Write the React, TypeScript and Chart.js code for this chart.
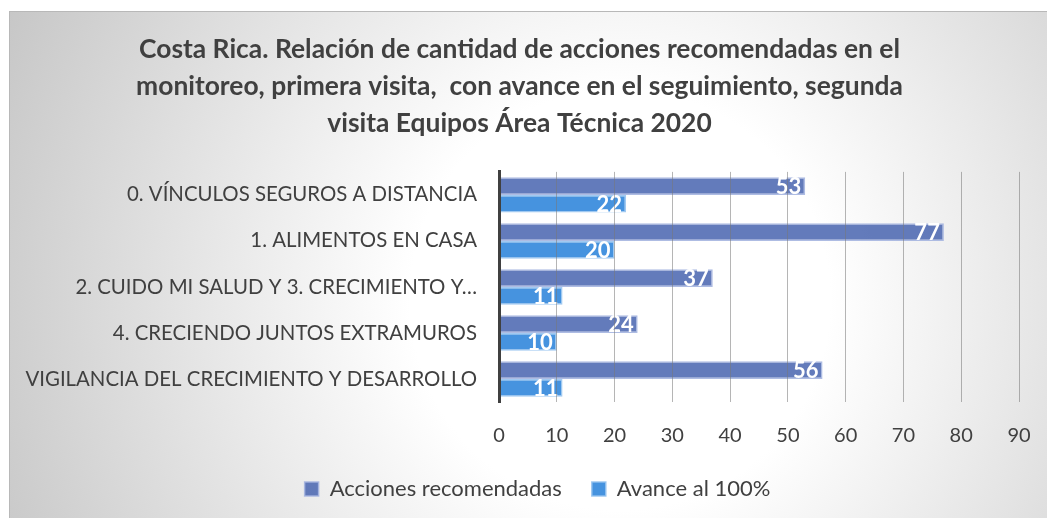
import React, { useEffect, useRef } from "react";
import { Chart, registerables } from "chart.js";

Chart.register(...registerables);

const titleLines = [
  "Costa Rica. Relación de cantidad de acciones recomendadas en el",
  "monitoreo, primera visita,  con avance en el seguimiento, segunda",
  "visita Equipos Área Técnica 2020",
];

const categories = [
  "0. VÍNCULOS SEGUROS A DISTANCIA",
  "1. ALIMENTOS EN CASA",
  "2. CUIDO MI SALUD Y 3. CRECIMIENTO Y…",
  "4. CRECIENDO JUNTOS EXTRAMUROS",
  "VIGILANCIA DEL CRECIMIENTO Y DESARROLLO",
];

const accionesRecomendadas = [53, 77, 37, 24, 56];
const avance100 = [22, 20, 11, 10, 11];

const seriesNames = ["Acciones recomendadas", "Avance al 100%"];

const xTicks = [0, 10, 20, 30, 40, 50, 60, 70, 80, 90];

const FONT = "Lato, 'Open Sans', sans-serif";
const TEXT = "#404040";

const bgPlugin = {
  id: "bgPlugin",
  beforeDraw(chart: any) {
    const { ctx, width, height } = chart;
    ctx.save();
    const g = ctx.createRadialGradient(620, 300, 0, 620, 300, 700);
    g.addColorStop(0, "#ffffff");
    g.addColorStop(0.3, "#ffffff");
    g.addColorStop(1, "#c4c4c4");
    ctx.fillStyle = g;
    ctx.fillRect(9, 11, width - 9, height - 11);
    ctx.strokeStyle = "#b8b8b8";
    ctx.lineWidth = 1;
    ctx.strokeRect(9.5, 11.5, width + 10, height + 10);
    ctx.restore();
  },
  afterLayout(chart: any) {
    const lg = chart.legend;
    if (lg) {
      lg.left += 18;
      lg.right += 18;
    }
  },
};

const labelPlugin = {
  id: "labelPlugin",
  afterDatasetsDraw(chart: any) {
    const { ctx } = chart;
    ctx.save();
    ctx.font = `bold 22px ${FONT}`;
    ctx.fillStyle = "#ffffff";
    ctx.textAlign = "right";
    ctx.textBaseline = "middle";
    chart.data.datasets.forEach((ds: any, di: number) => {
      const meta = chart.getDatasetMeta(di);
      meta.data.forEach((el: any, i: number) => {
        ctx.fillText(String(ds.data[i]), el.x - 4, el.y + 1);
      });
    });
    ctx.restore();
  },
};

export default function App() {
  const ref = useRef<HTMLCanvasElement>(null);
  useEffect(() => {
    if (!ref.current) return;
    const chart = new Chart(ref.current, {
      type: "bar",
      data: {
        labels: categories,
        datasets: [
          {
            label: seriesNames[0],
            data: accionesRecomendadas,
            backgroundColor: "rgba(72,100,175,0.85)",
            borderColor: "rgba(165,181,224,0.9)",
            borderWidth: 1.5,
            categoryPercentage: 0.77,
            barPercentage: 1,
          },
          {
            label: seriesNames[1],
            data: avance100,
            backgroundColor: "rgba(50,135,220,0.9)",
            borderColor: "rgba(150,195,240,0.9)",
            borderWidth: 1.5,
            categoryPercentage: 0.77,
            barPercentage: 1,
          },
        ],
      },
      options: {
        indexAxis: "y",
        animation: false,
        responsive: false,
        layout: { padding: { left: 20, right: 28, top: 0, bottom: 8 } },
        plugins: {
          title: {
            display: true,
            text: titleLines,
            color: TEXT,
            font: { family: FONT, size: 26.4, weight: "bold", lineHeight: 1.4 },
            padding: { top: 31.5, bottom: 29.5 },
          },
          legend: {
            position: "bottom",
            labels: {
              color: TEXT,
              font: { family: FONT, size: 22 },
              boxWidth: 14,
              boxHeight: 14,
              padding: 30,
            },
          },
          tooltip: { enabled: false },
        },
        scales: {
          x: {
            min: 0,
            max: 90,
            afterBuildTicks: (s: any) => {
              s.ticks = xTicks.map((v) => ({ value: v }));
            },
            afterFit: (s: any) => {
              s.height = 46;
              s.paddingLeft = 0;
              s.paddingRight = 0;
            },
            ticks: {
              color: TEXT,
              font: { family: FONT, size: 20 },
              padding: 22,
            },
            grid: { color: "rgba(120,120,120,0.55)", drawTicks: false, z: 1 },
            border: { display: false },
          },
          y: {
            afterFit: (s: any) => {
              s.width = 479;
            },
            ticks: {
              color: TEXT,
              font: { family: FONT, size: 20.4 },
              padding: 22,
            },
            grid: { display: false, drawTicks: false },
            border: { display: true, color: "#404040", width: 3, z: 2 },
          },
        },
      },
      plugins: [bgPlugin, labelPlugin],
    } as any);
    return () => chart.destroy();
  }, []);
  return (
    <div style={{ position: "fixed", left: 0, top: 0, width: 1047, height: 518 }}>
      <canvas ref={ref} width={1047} height={518} style={{ width: 1047, height: 518 }} />
    </div>
  );
}
